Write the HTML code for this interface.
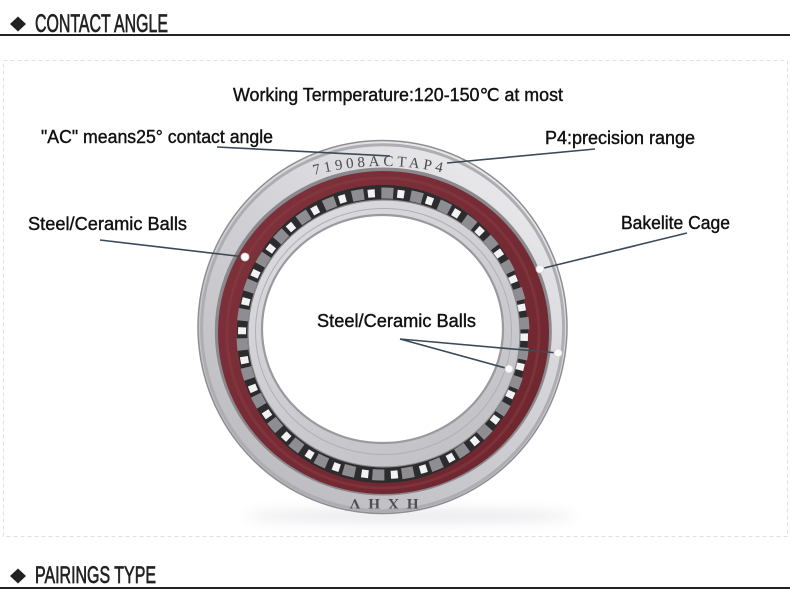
<!DOCTYPE html>
<html><head><meta charset="utf-8"><style>
html,body{margin:0;padding:0;background:#fff;}
svg{display:block;}
</style></head><body>
<svg width="790" height="603" viewBox="0 0 790 603" xmlns="http://www.w3.org/2000/svg">
<defs>
  <linearGradient id="gO" x1="0.85" y1="0" x2="0.15" y2="1">
    <stop offset="0" stop-color="#ededf0"/>
    <stop offset="0.45" stop-color="#d2d2d6"/>
    <stop offset="1" stop-color="#b9b9be"/>
  </linearGradient>
  <linearGradient id="gI" x1="0.2" y1="0" x2="0.8" y2="1">
    <stop offset="0" stop-color="#dcdce0"/>
    <stop offset="0.5" stop-color="#cdcdd2"/>
    <stop offset="1" stop-color="#c0c0c5"/>
  </linearGradient>
  <linearGradient id="gR" x1="0" y1="0" x2="1" y2="1">
    <stop offset="0" stop-color="#80323b"/>
    <stop offset="1" stop-color="#6c252e"/>
  </linearGradient>
  <filter id="blur" x="-20%" y="-200%" width="140%" height="500%"><feGaussianBlur stdDeviation="6"/></filter>
</defs>
<rect width="790" height="603" fill="#fff"/>

<!-- header -->
<polygon points="18,16.5 26,24 18,31.5 10,24" fill="#222"/>
<text x="35" y="32" font-family="Liberation Sans, sans-serif" font-size="25" fill="#222" stroke="#222" stroke-width="0.7" textLength="133" lengthAdjust="spacingAndGlyphs">CONTACT ANGLE</text>
<rect x="0" y="34" width="790" height="2" fill="#222"/>

<!-- dashed box -->
<rect x="3.5" y="60.5" width="784" height="476" fill="none" stroke="#e0e0e0" stroke-width="1" stroke-dasharray="4 3"/>

<!-- shadow -->
<ellipse cx="410" cy="516" rx="165" ry="7" fill="#c4c4cc" opacity="0.35" filter="url(#blur)"/>

<!-- bearing -->
<ellipse cx="382.5" cy="327" rx="184.5" ry="186.5" fill="url(#gO)" stroke="#8e8e92" stroke-width="1.5"/>
<ellipse cx="382.6" cy="327.8" rx="181" ry="183" fill="none" stroke="#aeaeb2" stroke-width="3"/>
<ellipse cx="383.3" cy="331.5" rx="168.5" ry="164" fill="#8a8a8e"/>
<ellipse cx="383.5" cy="332.5" rx="165.5" ry="161.5" fill="url(#gR)"/>
<ellipse cx="383" cy="333" rx="156" ry="155" fill="none" stroke="#8c3c45" stroke-width="3" opacity="0.5"/>
<ellipse cx="382.5" cy="334" rx="145.5" ry="149" fill="#2c2c2e"/>
<ellipse cx="383" cy="334" rx="141" ry="141" fill="none" stroke="#8e8e92" stroke-width="11" stroke-dasharray="12 17.5" stroke-dashoffset="16"/>
<ellipse cx="383" cy="334" rx="141" ry="141" fill="none" stroke="#f2f2f2" stroke-width="8" stroke-dasharray="7 22.5"/>
<ellipse cx="384" cy="333.5" rx="136" ry="133.5" fill="url(#gI)" stroke="#88888c" stroke-width="1.2"/>
<ellipse cx="383.5" cy="331.5" rx="128" ry="123" fill="none" stroke="#b0b0b4" stroke-width="1"/>
<ellipse cx="382.5" cy="329" rx="120.5" ry="114" fill="#fff" stroke="#9a9a9e" stroke-width="2.2"/>

<!-- ring markings -->
<path id="tp" d="M 314 175 Q 384 157 452 175" fill="none"/>
<text font-family="Liberation Serif, serif" font-size="15" fill="#4a4a4e" letter-spacing="3.6"><textPath href="#tp">71908ACTAP4</textPath></text>
<text x="380" y="510" transform="rotate(180 380 504.5)" text-anchor="middle" font-family="Liberation Serif, serif" font-weight="bold" font-size="15" fill="#4e4e52" letter-spacing="8">HXHV</text>

<!-- connectors -->
<g stroke="#3c4a58" stroke-width="1.6" fill="none">
  <line x1="217" y1="147" x2="390" y2="156"/>
  <line x1="595" y1="149" x2="447" y2="163"/>
  <line x1="100" y1="240" x2="245" y2="257"/>
  <line x1="687" y1="233" x2="540" y2="269"/>
  <line x1="400" y1="339" x2="558" y2="353"/>
  <line x1="400" y1="339" x2="509" y2="369"/>
</g>
<g fill="#fafafa" stroke="#d0d0d0" stroke-width="0.8">
  <circle cx="245" cy="257" r="4"/>
  <circle cx="540" cy="269" r="4"/>
  <circle cx="558" cy="353" r="4"/>
  <circle cx="509" cy="369" r="4"/>
</g>

<!-- labels -->
<g font-family="Liberation Sans, sans-serif" font-size="18" fill="#111" stroke="#111" stroke-width="0.4">
  <text x="233" y="101" textLength="330" lengthAdjust="spacingAndGlyphs">Working Termperature:120-150℃ at most</text>
  <text x="41" y="143" textLength="232" lengthAdjust="spacingAndGlyphs">"AC" means25° contact angle</text>
  <text x="545" y="144" textLength="150" lengthAdjust="spacingAndGlyphs">P4:precision range</text>
  <text x="28" y="230" textLength="159" lengthAdjust="spacingAndGlyphs">Steel/Ceramic Balls</text>
  <text x="621" y="229" textLength="109" lengthAdjust="spacingAndGlyphs">Bakelite Cage</text>
  <text x="317" y="327" textLength="159" lengthAdjust="spacingAndGlyphs">Steel/Ceramic Balls</text>
</g>

<!-- footer header -->
<polygon points="18,568.5 26,576 18,583.5 10,576" fill="#222"/>
<text x="35" y="583" font-family="Liberation Sans, sans-serif" font-size="24" fill="#222" stroke="#222" stroke-width="0.7" textLength="121" lengthAdjust="spacingAndGlyphs">PAIRINGS TYPE</text>
<rect x="0" y="587" width="790" height="2" fill="#222"/>
</svg>
</body></html>
